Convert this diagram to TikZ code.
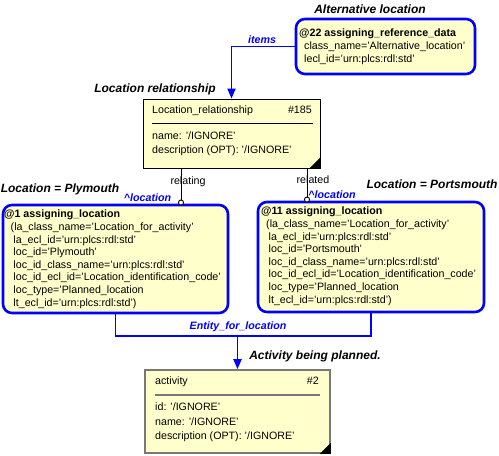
\documentclass[tikz,border=0pt]{standalone}
\usepackage{fontspec}
\setmainfont{Liberation Sans}
\usetikzlibrary{arrows.meta}
\definecolor{boxfill}{RGB}{255,255,204}
\definecolor{linkblue}{RGB}{0,0,255}
\definecolor{actgray}{RGB}{120,120,120}
\begin{document}
\begin{tikzpicture}[x=1pt,y=-1pt,
  txt/.style={font=\fontsize{10.67}{12.6}\selectfont, inner sep=0pt, align=left, anchor=north west},
  atxt/.style={font=\fontsize{10.67}{14.5}\selectfont, inner sep=0pt, align=left, anchor=north west},
  lbl/.style={font=\fontsize{12}{14}\selectfont\bfseries\itshape, inner sep=0pt},
  bluelbl/.style={font=\fontsize{10.67}{12}\selectfont\bfseries\itshape, text=linkblue, inner sep=0pt},
  rolelbl/.style={font=\fontsize{10.67}{12}\selectfont, inner sep=0pt},
  rbox/.style={draw=linkblue, line width=2.6pt, fill=boxfill, rounded corners=9pt, inner sep=0pt},
  ebox/.style={draw=black, line width=0.9pt, fill=boxfill, inner sep=0pt},
  abox/.style={draw=actgray, line width=1.6pt, fill=boxfill, inner sep=0pt},
  bluelink/.style={draw=linkblue, line width=1.8pt},
  arr/.style={-{Triangle[length=10pt,width=8pt]}},
  relline/.style={draw=black, line width=0.9pt, -{Circle[open, length=6pt, width=6pt, fill=white]}},
]
\useasboundingbox (0,0) rectangle (499,456);

% boxes
\node[rbox, minimum width=179pt, minimum height=55pt] (alt) at (385.5,46.5) {};
\node[ebox, minimum width=177pt, minimum height=69pt] (lr) at (231.5,133.5) {};
\node[rbox, minimum width=225pt, minimum height=108pt] (locA) at (115.5,259) {};
\node[rbox, minimum width=226pt, minimum height=110pt] (locB) at (371,257) {};
\node[abox, minimum width=185pt, minimum height=83pt] (act) at (237.5,411.5) {};

% corner triangles
\fill (lr.south east) -- ++(-11,0) -- ++(11,-11) -- cycle;
\fill (act.south east) -- ++(-11,0) -- ++(11,-11) -- cycle;

% alt box text
\node[txt] (altt) at (299,29) {\textbf{@22 assigning\_reference\_data}\\
\hspace{5pt}class\_name='Alternative\_location'\\
\hspace{5pt}lecl\_id='urn:plcs:rdl:std'};

% lr box text
\node[txt] (lrh) at (152,106) {Location\_relationship};
\node[txt, anchor=north east] (lrn) at (312,106) {\#185};
\draw[line width=1pt] (152,123.3) -- (313,123.3);
\node[atxt] (lra) at (152,131.5) {name: '/IGNORE'\\description (OPT): '/IGNORE'};

% locA text
\node[txt] (locAt) at (4,210) {\textbf{@1 assigning\_location}\\
\hspace{6.5pt}(la\_class\_name='Location\_for\_activity'\\
\hspace{9.3pt}la\_ecl\_id='urn:plcs:rdl:std'\\
\hspace{9.3pt}loc\_id='Plymouth'\\
\hspace{9.3pt}loc\_id\_class\_name='urn:plcs:rdl:std'\\
\hspace{9.3pt}loc\_id\_ecl\_id='Location\_identification\_code'\\
\hspace{9.3pt}loc\_type='Planned\_location\\
\hspace{9.3pt}lt\_ecl\_id='urn:plcs:rdl:std')};

% locB text
\node[txt] (locBt) at (261,207) {\textbf{@11 assigning\_location}\\
\hspace{5pt}(la\_class\_name='Location\_for\_activity'\\
\hspace{7.5pt}la\_ecl\_id='urn:plcs:rdl:std'\\
\hspace{7.5pt}loc\_id='Portsmouth'\\
\hspace{7.5pt}loc\_id\_class\_name='urn:plcs:rdl:std'\\
\hspace{7.5pt}loc\_id\_ecl\_id='Location\_identification\_code'\\
\hspace{7.5pt}loc\_type='Planned\_location\\
\hspace{7.5pt}lt\_ecl\_id='urn:plcs:rdl:std')};

% activity text
\node[txt] (acth) at (155,377) {activity};
\node[txt, anchor=north east] (actn) at (319,377) {\#2};
\draw[actgray, line width=1.6pt] (155,395) -- (320,395);
\node[atxt] (acta) at (155,403) {id: '/IGNORE'\\name: '/IGNORE'\\description (OPT): '/IGNORE'};

% connectors
\draw[bluelink, arr] (alt.west) -| (lr.north);
\coordinate (rA) at (181,205.5);
\coordinate (rB) at (307,202.5);
\draw[relline] (rA |- lr.south) -- (rA);
\draw[relline] (rB |- lr.south) -- (rB);
\coordinate (j) at (237.5,336);
\draw[bluelink] (locA.south) |- (j) -| (locB.south);
\draw[bluelink, arr] (j) -- (act.north);

% labels
\node[lbl] (l1) at (370,9) {Alternative location};
\node[bluelbl] (l2) at (262,40) {items};
\node[lbl] (l3) at (155,89) {Location relationship};
\node[rolelbl] (l4) at (188,182) {relating};
\node[rolelbl] (l5) at (313,180) {related};
\node[bluelbl] (l6) at (147.5,197.7) {\textasciicircum location};
\node[bluelbl] (l7) at (332,194.3) {\textasciicircum location};
\node[lbl] (l8) at (60,189) {Location = Plymouth};
\node[lbl] (l9) at (432,184.3) {Location = Portsmouth};
\node[bluelbl] (l10) at (238,326.7) {Entity\_for\_location};
\node[lbl] (l11) at (315,356.7) {Activity being planned.};
\end{tikzpicture}
\end{document}
